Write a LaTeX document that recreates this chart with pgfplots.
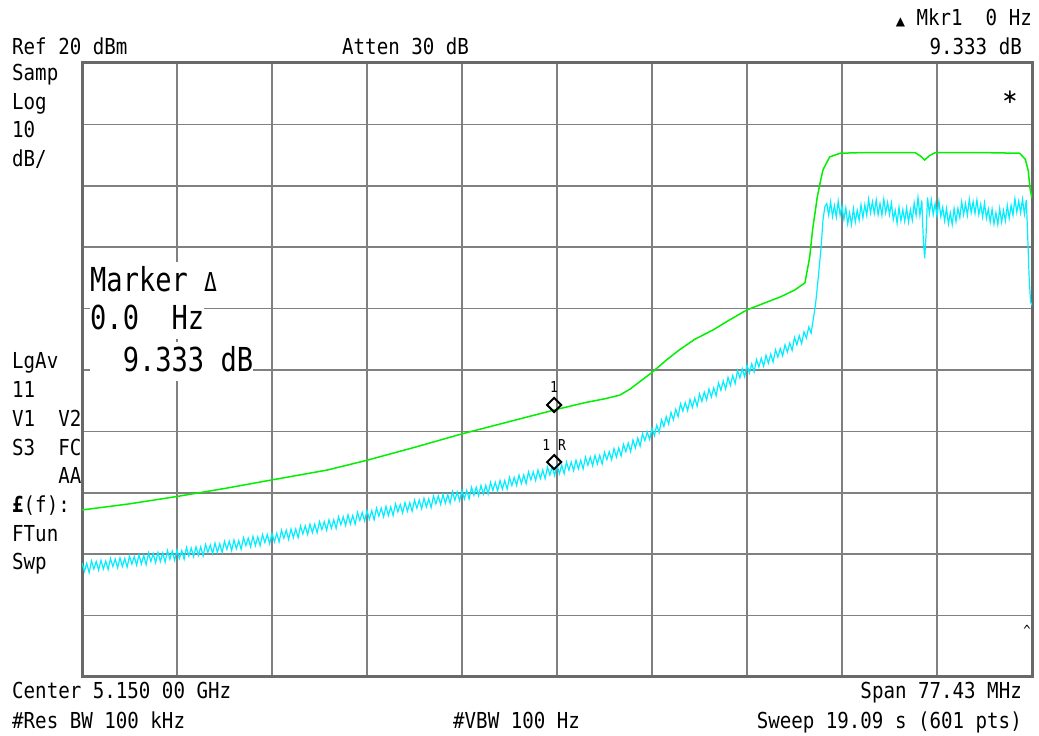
\documentclass[border=0pt]{standalone}
\usepackage{fontspec}
\usepackage{pgfplots}
\pgfplotsset{compat=1.18}
\newfontfamily\mono{DejaVu Sans Mono}[FakeStretch=0.87]
\newfontfamily\monob{DejaVu Sans Mono}[FakeStretch=0.82]
\newfontfamily\sym{DejaVu Sans}
\definecolor{trgreen}{RGB}{0,240,0}
\definecolor{trcyan}{RGB}{0,238,255}
\definecolor{gridgray}{RGB}{128,128,128}
\definecolor{framegray}{RGB}{105,105,105}
\newcommand{\sm}{\mono\fontsize{22}{22}\selectfont}
\newcommand{\bg}{\monob\fontsize{33}{33}\selectfont}
\begin{document}
\begin{tikzpicture}
\useasboundingbox (0pt,0pt) rectangle (1039pt,736pt);
\begin{axis}[at={(82pt,59pt)},anchor=south west,scale only axis,
  width=950pt,height=614pt,xmin=0,xmax=10,ymin=-80,ymax=20,
  xtick={0,1,...,10},ytick={-80,-70,...,20},xticklabels={},yticklabels={},
  major tick length=0pt,grid=major,
  major grid style={line width=1.6pt,gridgray},
  axis line style={line width=3pt,framegray},
  clip marker paths=false]
\addplot[trgreen,line width=1.5pt] coordinates {
(0,-52.8)(0.25,-52.3)(0.5,-51.8)(0.75,-51.2)(1,-50.6)(1.5,-49.3)(2,-47.9)(2.58,-46.3)(3,-44.7)(3.5,-42.6)(4,-40.4)(4.5,-38.4)(5,-36.4)(5.3,-35.3)(5.5,-34.7)(5.66,-34.1)(5.77,-33.1)(5.88,-31.8)(6,-30.4)(6.15,-28.4)(6.29,-26.7)(6.45,-25.0)(6.64,-23.5)(6.8,-22.0)(7,-20.2)(7.2,-19.0)(7.35,-18.1)(7.5,-17.0)(7.61,-15.8)(7.66,-11.6)(7.69,-7.2)(7.74,-1.8)(7.77,0.5)(7.80,2.6)(7.87,4.7)(7.98,5.3)(8.2,5.4)(8.77,5.4)(8.83,4.8)(8.87,4.2)(8.92,4.9)(8.98,5.4)(9.5,5.4)(9.87,5.3)(9.93,4.3)(9.96,2.5)(9.98,-0.5)(10,-2)};
\addplot[trcyan,line width=1.2pt] coordinates {
(0,-61.4)(0.025,-62.8)(0.05,-61.5)(0.075,-63.0)(0.1,-61.1)(0.125,-62.4)(0.15,-61.2)(0.175,-62.6)(0.2,-61.0)(0.225,-62.4)(0.25,-61.1)(0.275,-62.5)(0.3,-60.7)(0.325,-62.0)(0.35,-60.8)(0.375,-62.2)(0.4,-60.6)(0.425,-62.0)(0.45,-60.7)(0.475,-62.1)
(0.5,-60.3)(0.525,-61.6)(0.55,-60.4)(0.575,-61.8)(0.6,-60.1)(0.625,-61.6)(0.65,-60.2)(0.675,-61.7)(0.7,-59.8)(0.725,-61.2)(0.75,-59.9)(0.775,-61.4)(0.8,-59.7)(0.825,-61.2)(0.85,-59.8)(0.875,-61.3)(0.9,-59.4)(0.925,-60.8)(0.95,-59.5)(0.975,-61.0)
(1.0,-59.3)(1.025,-60.7)(1.05,-59.4)(1.075,-60.8)(1.1,-58.9)(1.125,-60.3)(1.15,-59.0)(1.175,-60.4)(1.2,-58.8)(1.225,-60.2)(1.25,-58.8)(1.275,-60.3)(1.3,-58.4)(1.325,-59.7)(1.35,-58.5)(1.375,-59.9)(1.4,-58.2)(1.425,-59.7)(1.45,-58.3)(1.475,-59.7)
(1.5,-57.9)(1.525,-59.2)(1.55,-57.9)(1.575,-59.4)(1.6,-57.7)(1.625,-59.1)(1.65,-57.8)(1.675,-59.2)(1.7,-57.3)(1.725,-58.6)(1.75,-57.4)(1.775,-58.8)(1.8,-57.1)(1.825,-58.6)(1.85,-57.2)(1.875,-58.6)(1.9,-56.8)(1.925,-58.1)(1.95,-56.8)(1.975,-58.3)
(2.0,-56.6)(2.025,-58.0)(2.05,-56.6)(2.075,-58.0)(2.1,-56.1)(2.125,-57.4)(2.15,-56.1)(2.175,-57.6)(2.2,-55.9)(2.225,-57.3)(2.25,-55.9)(2.275,-57.3)(2.3,-55.4)(2.325,-56.7)(2.35,-55.4)(2.375,-56.8)(2.4,-55.1)(2.425,-56.5)(2.45,-55.1)(2.475,-56.5)
(2.5,-54.7)(2.525,-56.0)(2.55,-54.7)(2.575,-56.1)(2.6,-54.4)(2.625,-55.8)(2.65,-54.4)(2.675,-55.8)(2.7,-53.9)(2.725,-55.2)(2.75,-53.9)(2.775,-55.3)(2.8,-53.6)(2.825,-55.1)(2.85,-53.7)(2.875,-55.1)(2.9,-53.2)(2.925,-54.5)(2.95,-53.2)(2.975,-54.6)
(3.0,-52.9)(3.025,-54.3)(3.05,-52.9)(3.075,-54.4)(3.1,-52.5)(3.125,-53.8)(3.15,-52.5)(3.175,-53.9)(3.2,-52.2)(3.225,-53.7)(3.25,-52.3)(3.275,-53.7)(3.3,-51.8)(3.325,-53.1)(3.35,-51.9)(3.375,-53.3)(3.4,-51.6)(3.425,-53.0)(3.45,-51.6)(3.475,-53.0)
(3.5,-51.2)(3.525,-52.5)(3.55,-51.2)(3.575,-52.6)(3.6,-50.9)(3.625,-52.3)(3.65,-51.0)(3.675,-52.4)(3.7,-50.5)(3.725,-51.8)(3.75,-50.5)(3.775,-51.9)(3.8,-50.3)(3.825,-51.7)(3.85,-50.3)(3.875,-51.7)(3.9,-49.8)(3.925,-51.2)(3.95,-49.9)(3.975,-51.3)
(4.0,-49.6)(4.025,-51.0)(4.05,-49.6)(4.075,-51.0)(4.1,-49.1)(4.125,-50.4)(4.15,-49.1)(4.175,-50.5)(4.2,-48.8)(4.225,-50.2)(4.25,-48.8)(4.275,-50.2)(4.3,-48.3)(4.325,-49.6)(4.35,-48.3)(4.375,-49.7)(4.4,-48.0)(4.425,-49.4)(4.45,-48.0)(4.475,-49.4)
(4.5,-47.5)(4.525,-48.8)(4.55,-47.5)(4.575,-48.8)(4.6,-47.1)(4.625,-48.5)(4.65,-47.1)(4.675,-48.5)(4.7,-46.6)(4.725,-47.9)(4.75,-46.6)(4.775,-48.0)(4.8,-46.3)(4.825,-47.7)(4.85,-46.3)(4.875,-47.7)(4.9,-45.8)(4.925,-47.1)(4.95,-45.8)(4.975,-47.2)
(5.0,-45.5)(5.025,-46.9)(5.05,-45.5)(5.075,-46.9)(5.1,-45.0)(5.125,-46.3)(5.15,-45.0)(5.175,-46.4)(5.2,-44.7)(5.225,-46.1)(5.25,-44.7)(5.275,-46.1)(5.3,-44.2)(5.325,-45.5)(5.35,-44.2)(5.375,-45.6)(5.4,-43.9)(5.425,-45.3)(5.45,-43.9)(5.475,-45.3)
(5.5,-43.4)(5.525,-44.6)(5.55,-43.3)(5.575,-44.6)(5.6,-42.8)(5.625,-44.2)(5.65,-42.7)(5.675,-44.0)(5.7,-42.1)(5.725,-43.3)(5.75,-41.9)(5.775,-43.3)(5.8,-41.4)(5.825,-42.7)(5.85,-41.1)(5.875,-42.4)(5.9,-40.4)(5.925,-41.5)(5.95,-40.1)(5.975,-41.3)
(6.0,-39.5)(6.025,-40.7)(6.05,-39.0)(6.075,-40.2)(6.1,-38.1)(6.125,-39.2)(6.15,-37.6)(6.175,-38.8)(6.2,-36.9)(6.225,-38.1)(6.25,-36.4)(6.275,-37.6)(6.3,-35.5)(6.325,-36.7)(6.35,-35.3)(6.375,-36.6)(6.4,-34.8)(6.425,-36.1)(6.45,-34.6)(6.475,-35.9)
(6.5,-33.9)(6.525,-35.1)(6.55,-33.6)(6.575,-34.9)(6.6,-33.1)(6.625,-34.4)(6.65,-32.9)(6.675,-34.2)(6.7,-32.1)(6.725,-33.3)(6.75,-31.8)(6.775,-33.1)(6.8,-31.2)(6.825,-32.5)(6.85,-30.9)(6.875,-32.2)(6.9,-30.1)(6.925,-31.3)(6.95,-29.8)(6.975,-31.1)
(7.0,-29.2)(7.025,-30.5)(7.05,-29.0)(7.075,-30.3)(7.1,-28.3)(7.125,-29.5)(7.15,-28.1)(7.175,-29.4)(7.2,-27.6)(7.225,-28.9)(7.25,-27.4)(7.275,-28.7)(7.3,-26.7)(7.325,-27.9)(7.35,-26.5)(7.375,-27.7)(7.4,-25.9)(7.425,-27.1)(7.45,-25.6)(7.475,-26.8)
(7.5,-24.7)(7.525,-25.9)(7.55,-24.4)(7.575,-25.7)(7.6,-23.8)(7.625,-24.8)(7.65,-23.0)(7.675,-24.0)(7.7,-21.5)(7.72,-19.5)(7.75,-15)(7.78,-10)(7.8,-5.5)(7.82,-3.4)
(7.84,-2.9)(7.86,-4.8)(7.88,-2.6)(7.9,-5.0)(7.92,-3.2)(7.94,-5.1)(7.96,-2.5)(7.98,-4.8)(8.0,-3.3)(8.02,-5.5)(8.04,-3.6)(8.06,-6.2)(8.08,-4.4)(8.1,-6.3)(8.12,-3.7)(8.14,-5.9)(8.16,-4.0)(8.18,-5.6)(8.2,-3.1)(8.22,-5.2)
(8.24,-3.1)(8.26,-4.8)(8.28,-2.2)(8.3,-4.4)(8.32,-2.6)(8.34,-4.5)(8.36,-2.3)(8.38,-4.7)(8.4,-2.9)(8.42,-4.8)(8.44,-2.2)(8.46,-4.4)(8.48,-2.7)(8.5,-4.7)(8.52,-2.8)(8.54,-5.5)(8.56,-4.0)(8.58,-6.1)(8.6,-3.5)(8.62,-5.7)
(8.64,-3.9)(8.66,-5.8)(8.68,-3.6)(8.7,-5.9)(8.72,-3.9)(8.74,-5.6)(8.76,-2.8)(8.78,-4.8)(8.8,-1.9)(8.82,-4.8)(8.84,-2.4)(8.855,-8.5)(8.87,-11.8)(8.885,-8.0)(8.9,-1.9)(8.92,-4.5)(8.94,-2.3)(8.96,-4.7)(8.98,-2.9)(9.0,-4.9)
(9.02,-2.5)(9.04,-5.0)(9.06,-3.5)(9.08,-5.7)(9.1,-3.7)(9.12,-6.2)(9.14,-4.4)(9.16,-6.3)(9.18,-3.7)(9.2,-5.8)(9.22,-3.7)(9.24,-5.2)(9.26,-2.6)(9.28,-4.7)(9.3,-2.9)(9.32,-4.8)(9.34,-2.2)(9.36,-4.4)(9.38,-2.6)(9.4,-4.5)
(9.42,-2.3)(9.44,-4.7)(9.46,-3.0)(9.48,-5.1)(9.5,-2.8)(9.52,-5.3)(9.54,-3.8)(9.56,-5.9)(9.58,-3.8)(9.6,-6.2)(9.62,-4.4)(9.64,-6.3)(9.66,-3.7)(9.68,-5.9)(9.7,-4.0)(9.72,-5.7)(9.74,-3.2)(9.76,-5.3)(9.78,-3.2)(9.8,-4.8)
(9.82,-2.1)(9.84,-4.3)(9.86,-2.5)(9.88,-4.4)(9.9,-2.2)(9.92,-4.6)(9.94,-2.3)(9.955,-8.3)(9.97,-15)(9.985,-18.9)(10,-19.5)};
\addplot[only marks,mark=square,mark size=5pt,
  mark options={rotate=45,draw=black,line width=2pt},
  nodes near coords,point meta=explicit symbolic,
  nodes near coords style={font=\mono\fontsize{15}{15}\selectfont,anchor=base,yshift=12pt,inner sep=0pt,black}]
  coordinates {(4.97,-35.7) [1] (4.97,-45.0) [1~R]};
\end{axis}
% annotations
\node[anchor=base west,inner sep=0pt] at (12pt,681pt) {\sm Ref~20~dBm};
\node[anchor=base west,inner sep=0pt] at (342pt,681pt) {\sm Atten~30~dB};
\node[anchor=base east,inner sep=0pt] at (1032pt,710pt) {{\sym\fontsize{12}{12}\selectfont ▲}\sm~Mkr1~~0~Hz};
\node[anchor=base east,inner sep=0pt] at (1022pt,681pt) {\sm 9.333~dB};
\node[anchor=base west,inner sep=0pt] at (12pt,655pt) {\sm Samp};
\node[anchor=base west,inner sep=0pt] at (12pt,626pt) {\sm Log};
\node[anchor=base west,inner sep=0pt] at (12pt,598pt) {\sm 10};
\node[anchor=base west,inner sep=0pt] at (12pt,569pt) {\sm dB/};
\node[anchor=base west,inner sep=0pt] at (12pt,367pt) {\sm LgAv};
\node[anchor=base west,inner sep=0pt] at (12pt,338pt) {\sm 11};
\node[anchor=base west,inner sep=0pt] at (12pt,309pt) {\sm V1~~V2};
\node[anchor=base west,inner sep=0pt] at (12pt,280pt) {\sm S3~~FC};
\node[anchor=base west,inner sep=0pt] at (12pt,252pt) {\sm ~~~~AA};
\node[anchor=base west,inner sep=0pt] at (12pt,223pt) {\sm {\bfseries £}(f):};
\node[anchor=base west,inner sep=0pt] at (12pt,194pt) {\sm FTun};
\node[anchor=base west,inner sep=0pt] at (12pt,166pt) {\sm Swp};
\node[anchor=base west,inner sep=0pt] at (12pt,37pt) {\sm Center~5.150~00~GHz};
\node[anchor=base east,inner sep=0pt] at (1022pt,37pt) {\sm Span~77.43~MHz};
\node[anchor=base west,inner sep=0pt] at (12pt,7pt) {\sm \#Res~BW~100~kHz};
\node[anchor=base west,inner sep=0pt] at (453pt,7pt) {\sm \#VBW~100~Hz};
\node[anchor=base east,inner sep=0pt] at (1022pt,7pt) {\sm Sweep~19.09~s~(601~pts)};
\node[inner sep=0pt] at (1010pt,639pt) {\sym\fontsize{20}{20}\selectfont ∗};
\node[inner sep=0pt] at (1027pt,106pt) {\mono\fontsize{14}{14}\selectfont\textasciicircum};
% marker readout box
\node[anchor=base west,inner xsep=0pt,inner ysep=0pt,fill=white,text height=30pt,text depth=9pt] at (90pt,444pt) {\bg Marker~{\fontsize{26}{26}\selectfont Δ}};
\node[anchor=base west,inner xsep=0pt,inner ysep=0pt,fill=white,text height=30pt,text depth=9pt] at (90pt,406pt) {\bg 0.0~~Hz};
\node[anchor=base west,inner xsep=0pt,inner ysep=0pt,fill=white,text height=30pt,text depth=9pt] at (90pt,364pt) {\bg ~~9.333~dB};
\end{tikzpicture}
\end{document}
